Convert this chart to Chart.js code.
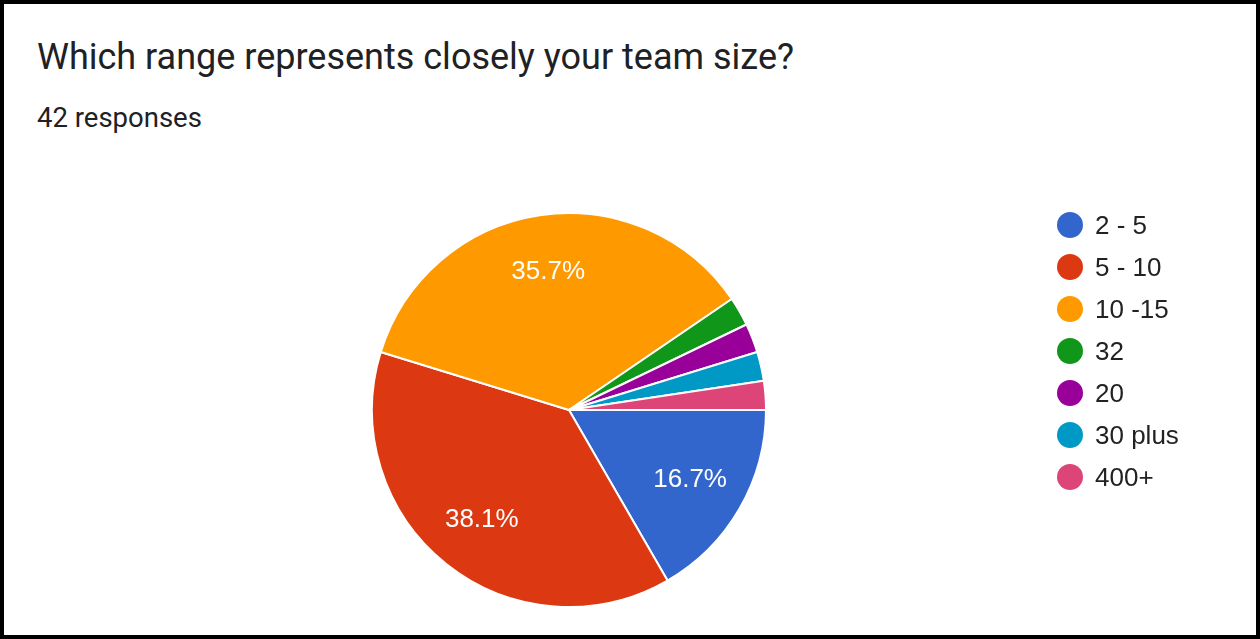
<!DOCTYPE html>
<html>
<head>
<meta charset="utf-8">
<script src="https://cdn.jsdelivr.net/npm/chart.js@4.4.0/dist/chart.umd.min.js"></script>
<style>
  html, body { margin: 0; padding: 0; background: #fff; }
  #frame {
    position: relative; width: 1260px; height: 639px;
    box-sizing: border-box; border: 4px solid #000; overflow: hidden;
  }
  #title {
    position: absolute; left: 33px; top: 32px;
    font-family: Roboto, "Noto Sans", sans-serif; font-size: 36px; color: #202124;
    line-height: 42px; white-space: nowrap;
  }
  #subtitle {
    position: absolute; left: 33px; top: 98px;
    font-family: Roboto, "Noto Sans", sans-serif; font-size: 27.5px; color: #202124;
    line-height: 32px; white-space: nowrap;
  }
  #chart { position: absolute; left: -4px; top: -4px; }
  #legend { position: absolute; left: 1053px; top: 200px; }
  .item { height: 42px; display: flex; align-items: center; }
  .dot { width: 26px; height: 26px; border-radius: 50%; margin-right: 12px; }
  .lbl { font-family: "Liberation Sans", Arial, sans-serif; font-size: 26px; color: #222; }
</style>
</head>
<body>
<div id="frame">
  <div id="title">Which range represents closely your team size?</div>
  <div id="subtitle">42 responses</div>
  <canvas id="chart" width="1260" height="639"></canvas>
  <div id="legend"></div>
</div>
<script>
// données (42 réponses)
const categories = ["2 - 5", "5 - 10", "10 -15", "32", "20", "30 plus", "400+"];
const counts = [7, 16, 15, 1, 1, 1, 1];
const couleurs = ["#3366cc", "#dc3912", "#ff9900", "#109618", "#990099", "#0099c6", "#dd4477"];

// légende à droite
const legend = document.getElementById("legend");
categories.forEach(function (cat, i) {
  const row = document.createElement("div");
  row.className = "item";
  row.innerHTML = '<div class="dot" style="background:' + couleurs[i] + '"></div><span class="lbl">' + cat + '</span>';
  legend.appendChild(row);
});

// pourcentages dans les parts
const pctLabels = {
  id: "pctLabels",
  afterDatasetsDraw(chart) {
    const ctx = chart.ctx;
    const meta = chart.getDatasetMeta(0);
    const total = counts.reduce((a, b) => a + b, 0);
    ctx.save();
    ctx.fillStyle = "#fff";
    ctx.font = "26px 'Liberation Sans', Arial, sans-serif";
    ctx.textAlign = "center";
    ctx.textBaseline = "middle";
    meta.data.forEach(function (arc, i) {
      const pct = counts[i] / total * 100;
      if (pct < 5) return;
      const p = arc.getProps(["x", "y", "startAngle", "endAngle", "outerRadius"], true);
      const mid = (p.startAngle + p.endAngle) / 2;
      const r = p.outerRadius * 0.71;
      ctx.fillText(pct.toFixed(1) + "%", p.x + Math.cos(mid) * r, p.y + Math.sin(mid) * r);
    });
    ctx.restore();
  }
};

window.addEventListener("DOMContentLoaded", function () {
  const ctx = document.getElementById("chart").getContext("2d");
  new Chart(ctx, {
    type: "pie",
    data: {
      labels: categories,
      datasets: [{
        data: counts,
        backgroundColor: couleurs,
        borderColor: "#fff",
        borderWidth: 2
      }]
    },
    options: {
      responsive: false,
      animation: false,
      rotation: 90,
      layout: { padding: { left: 371, right: 493, top: 212, bottom: 31 } },
      plugins: {
        legend: { display: false },
        tooltip: { enabled: false }
      }
    },
    plugins: [pctLabels]
  });
});
</script>
</body>
</html>
